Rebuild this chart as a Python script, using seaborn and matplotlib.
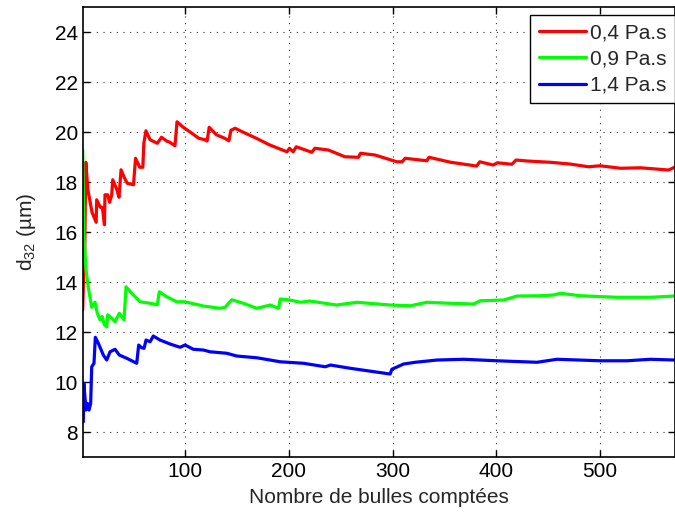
import matplotlib.pyplot as plt
import pandas as pd
import seaborn as sns

# valeurs (moyenne cumulée du d32)
series_names = ['0,4 Pa.s', '0,9 Pa.s', '1,4 Pa.s']
series_colors = ['#ff0000', '#00ff00', '#0000ff']

red_x = [1, 2, 3, 4, 6, 10, 14, 14.5, 18, 20, 22, 22.5, 25, 27, 29, 30, 34, 36, 38, 41,
         44, 50, 52, 56, 59, 60, 62, 66, 73, 77, 82, 85, 90, 92, 98, 105, 113, 119, 121, 123,
         130, 138, 142, 144, 148, 156, 169, 181, 198, 200.5, 204, 207, 222, 225, 238, 254, 267, 269, 283, 304,
         309, 312, 333, 335, 356, 381, 384, 397, 401, 415, 419, 430, 452, 471, 489, 500, 520, 539, 566, 572]
red_y = [12.9, 14.4, 15.3, 18.8, 17.7, 16.8, 16.4, 17.3, 17.0, 17.0, 16.3, 17.5, 17.5, 17.2, 17.5, 18.1, 17.7, 17.4, 18.5, 18.2,
         17.96, 17.9, 18.96, 18.6, 18.6, 19.56, 20.06, 19.7, 19.56, 19.8, 19.65, 19.6, 19.46, 20.42, 20.2, 20.0, 19.76, 19.7, 19.65, 20.2,
         19.9, 19.76, 19.66, 20.08, 20.16, 20.0, 19.75, 19.5, 19.22, 19.36, 19.22, 19.42, 19.2, 19.36, 19.29, 19.02, 19.0, 19.16, 19.09, 18.82,
         18.82, 18.96, 18.86, 19.0, 18.8, 18.65, 18.82, 18.69, 18.78, 18.72, 18.89, 18.85, 18.8, 18.73, 18.62, 18.66, 18.56, 18.58, 18.49, 18.6]

green_x = [1, 2.3, 4.2, 6.4, 9.7, 12.9, 15.1, 17.7, 19.9, 21.9, 24.2, 25.1, 29, 32.2, 36.3, 38.6, 40.9, 42.8, 48.3, 56.3,
           66, 73, 74.9, 82.1, 91.7, 99.7, 117.4, 133.5, 138.4, 144.8, 156, 169, 182, 190, 191.5, 201, 211, 220, 246, 265.5,
           297.6, 317, 333, 355.5, 378, 384.5, 407, 420, 442, 455, 462, 481, 516, 549, 572]
green_y = [19.3, 15.8, 14.5, 13.8, 13.0, 13.2, 12.76, 12.5, 12.63, 12.3, 12.22, 12.7, 12.57, 12.42, 12.76, 12.63, 12.5, 13.82, 13.56, 13.22,
           13.16, 13.1, 13.62, 13.42, 13.22, 13.22, 13.05, 12.96, 13.0, 13.3, 13.16, 12.96, 13.09, 12.96, 13.33, 13.29, 13.2, 13.25, 13.09, 13.2,
           13.09, 13.06, 13.2, 13.16, 13.13, 13.26, 13.29, 13.45, 13.46, 13.49, 13.56, 13.46, 13.4, 13.4, 13.45]

blue_x = [1.6, 2.1, 4.2, 5.5, 7.1, 8.7, 9.7, 11.9, 13.2, 16.1, 20.9, 24.2, 27.4, 32.2, 36.3, 43.5, 53.1, 55, 57.9, 60.2,
          62.1, 66, 69.1, 75.6, 85.3, 94.9, 99.7, 107.8, 117.4, 123.9, 140, 149.6, 169, 181.8, 191.5, 214, 235, 240, 259, 297.6,
          299.2, 310.5, 321.8, 342.7, 368.4, 400.6, 439.2, 458.5, 500.3, 526.1, 548.6, 572]
blue_y = [8.42, 9.96, 8.89, 9.16, 8.89, 9.16, 10.62, 10.76, 11.8, 11.56, 11.09, 10.89, 11.22, 11.32, 11.09, 10.96, 10.76, 11.49, 11.38, 11.36,
          11.69, 11.62, 11.85, 11.69, 11.53, 11.4, 11.49, 11.32, 11.29, 11.22, 11.16, 11.05, 10.98, 10.89, 10.82, 10.76, 10.62, 10.69, 10.56, 10.33,
          10.52, 10.73, 10.8, 10.89, 10.92, 10.86, 10.8, 10.92, 10.86, 10.86, 10.92, 10.89]

x_ticks = [100, 200, 300, 400, 500]
y_ticks = [8, 10, 12, 14, 16, 18, 20, 22, 24]


def build_frame():
    parts = []
    for name, xs, ys in zip(series_names, [red_x, green_x, blue_x], [red_y, green_y, blue_y]):
        parts.append(pd.DataFrame({'n': xs, 'd32': ys, 'visc': name}))
    return pd.concat(parts, ignore_index=True)


sns.set_style('white')
plt.rcParams['font.family'] = ['Liberation Sans', 'DejaVu Sans']
plt.rcParams['mathtext.default'] = 'regular'

df = build_frame()

fig = plt.figure(figsize=(6.75, 5.16), dpi=100)
ax = fig.add_axes([0.1225, 0.1138, 0.877, 0.8721])
sns.lineplot(data=df, x='n', y='d32', hue='visc', palette=dict(zip(series_names, series_colors)),
             estimator=None, sort=False, linewidth=2.3, ax=ax)

ax.set_xlim(1, 572)
ax.set_ylim(7, 25)
ax.set_xticks(x_ticks)
ax.set_yticks(y_ticks)
ax.grid(True, color='#333333', linestyle=(0, (1, 5)), linewidth=0.8)
ax.tick_params(direction='in', length=5, width=1, labelsize=15, top=True, right=True,
               bottom=True, left=True, colors='black')
for s in ax.spines.values():
    s.set_visible(True)
    s.set_color('black')
    s.set_linewidth(1.2)

ax.set_xlabel('Nombre de bulles comptées', fontsize=15, labelpad=5)
ax.set_ylabel('d$_{32}$ (µm)', fontsize=15, labelpad=12)

handles, labels = ax.get_legend_handles_labels()
leg = ax.legend(handles, labels, loc='upper right', bbox_to_anchor=(1.0, 0.983), borderaxespad=0,
                fontsize=15, frameon=True, fancybox=False, edgecolor='black', framealpha=1,
                handlelength=2.25, handletextpad=0.2, labelspacing=0.35, borderpad=0.4)
leg.get_frame().set_linewidth(1.0)

plt.savefig('out.png', dpi=100)
